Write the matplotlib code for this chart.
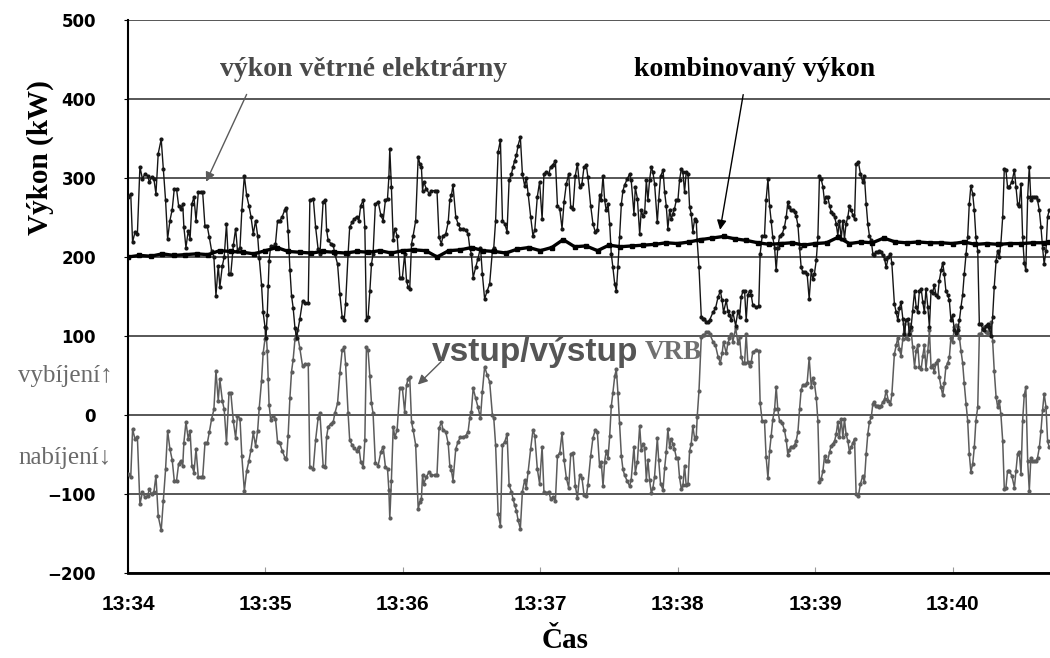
import matplotlib
matplotlib.use("Agg")
import matplotlib.pyplot as plt
import numpy as np

plt.rcParams["font.family"] = ["DejaVu Sans"]
plt.rcParams["axes.unicode_minus"] = True

SERIF = ["Liberation Serif", "DejaVu Serif"]
SANS_BOLD = ["Liberation Sans", "DejaVu Sans"]
NARROW = ["Liberation Sans Narrow", "Liberation Sans", "DejaVu Sans"]

# time in seconds after 13:34:00, shared by the wind and VRB series
t_sec = [
    0.1, 1.2, 2.0, 3.1, 4.1, 5.2, 6.3, 7.4, 8.6, 9.3, 10.3, 11.3, 12.2, 13.2, 14.5, 15.4, 16.4, 17.3, 18.3, 19.3,
    20.2, 21.2, 22.1, 23.0, 23.9, 24.4, 25.3, 26.3, 27.1, 27.9, 28.8, 29.7, 30.7, 31.7, 32.6, 33.6, 34.6, 35.5, 36.5, 37.5,
    38.4, 39.4, 40.1, 41.2, 42.0, 43.0, 44.1, 44.9, 46.0, 47.0, 47.8, 48.9, 49.7, 50.8, 51.8, 52.8, 53.7, 54.7, 55.7, 56.6,
    57.3, 58.3, 59.0, 59.8, 60.2, 60.8, 61.2, 61.6, 62.3, 63.4, 64.4, 65.3, 66.3, 67.3, 68.5, 69.2, 69.9, 70.7, 71.4, 72.1,
    72.9, 73.6, 75.0, 76.2, 77.2, 78.7, 79.4, 80.9, 81.9, 83.0, 83.8, 85.2, 86.2, 86.7, 87.4, 88.6, 89.6, 90.3, 91.5, 92.5,
    93.5, 94.4, 95.0, 96.1, 96.8, 97.9, 98.7, 99.8, 100.8, 101.6, 102.7, 103.4, 104.1, 104.8, 105.6, 106.3, 107.0, 108.0, 109.2, 110.4,
    111.4, 112.4, 113.3, 113.9, 114.3, 115.0, 115.8, 116.5, 117.5, 118.7, 119.8, 120.8, 121.6, 122.3, 123.0, 123.8, 124.5, 125.6, 126.7, 127.4,
    128.1, 128.6, 129.1, 130.3, 131.5, 132.5, 133.9, 134.9, 135.8, 136.8, 137.6, 138.7, 139.8, 140.5, 141.2, 141.9, 143.1, 144.1, 145.1, 146.3,
    147.5, 148.5, 149.2, 149.9, 150.7, 151.8, 152.8, 153.9, 154.7, 155.7, 156.8, 157.9, 159.1, 159.7, 160.5, 161.6, 162.6, 163.5, 164.5, 165.5,
    166.4, 167.4, 168.1, 168.8, 169.6, 170.3, 171.3, 172.2, 173.2, 173.9, 174.7, 175.8, 176.8, 177.6, 178.7, 179.7, 180.8, 181.6, 182.7, 183.7,
    184.5, 185.6, 186.6, 187.5, 188.5, 189.5, 190.4, 191.4, 192.4, 193.3, 194.3, 195.3, 196.2, 197.2, 198.2, 199.1, 200.1, 200.8, 202.0, 203.0,
    204.0, 204.9, 205.9, 206.6, 207.4, 208.1, 208.8, 209.6, 210.3, 211.0, 211.7, 212.5, 213.2, 213.9, 214.6, 215.4, 216.1, 216.8, 218.0, 219.0,
    219.7, 220.9, 221.5, 222.4, 223.4, 224.1, 224.8, 225.6, 226.3, 227.0, 227.7, 228.5, 229.2, 229.9, 231.1, 231.7, 232.5, 233.6, 234.3, 235.0,
    235.7, 236.5, 237.2, 237.9, 238.6, 239.4, 240.1, 240.8, 241.6, 242.3, 243.0, 243.7, 244.5, 245.2, 245.9, 246.6, 247.4, 248.1, 248.5, 249.3,
    250.3, 251.0, 251.7, 252.5, 253.2, 253.9, 255.4, 256.5, 257.6, 258.6, 259.4, 260.0, 261.2, 261.9, 262.6, 263.4, 264.1, 265.3, 266.3, 267.0,
    267.7, 268.5, 269.2, 269.9, 270.6, 271.4, 272.1, 272.8, 274.3, 275.4, 276.0, 276.9, 277.9, 278.6, 279.4, 280.1, 280.8, 281.5, 282.3, 283.0,
    283.7, 284.5, 285.6, 286.6, 287.4, 288.1, 288.8, 289.5, 290.3, 291.0, 291.7, 292.5, 293.2, 293.9, 294.6, 295.4, 296.5, 297.4, 298.3, 299.0,
    299.7, 300.5, 301.2, 301.9, 302.6, 303.4, 304.1, 304.8, 305.5, 306.3, 307.0, 307.7, 308.5, 309.2, 309.9, 310.6, 311.4, 312.1, 312.8, 313.5,
    314.3, 315.0, 315.7, 316.5, 317.2, 317.9, 318.9, 319.8, 320.8, 321.5, 322.3, 323.0, 323.7, 324.5, 325.2, 325.9, 326.6, 327.4, 328.1, 328.8,
    329.5, 330.3, 331.0, 332.0, 332.9, 333.5, 334.6, 335.4, 336.1, 336.8, 337.5, 338.3, 339.0, 339.7, 340.4, 341.2, 341.9, 342.6, 343.4, 344.1,
    344.8, 345.5, 346.3, 347.0, 347.7, 348.4, 349.2, 349.9, 350.6, 351.3, 352.0, 352.8, 353.5, 354.2, 355.0, 355.7, 356.4, 357.1, 357.9, 358.6,
    359.3, 360.0, 360.8, 361.5, 362.2, 363.0, 363.7, 364.4, 365.1, 365.9, 366.6, 367.3, 368.0, 368.8, 369.5, 370.2, 371.0, 371.7, 372.4, 373.1,
    373.9, 374.6, 375.3, 376.0, 376.8, 377.5, 378.2, 379.0, 379.7, 380.4, 381.1, 381.9, 382.6, 383.3, 384.0, 384.8, 385.9, 387.0, 387.7, 388.4,
    389.1, 389.9, 390.6, 391.3, 392.0, 392.8, 393.5, 394.2, 394.9, 395.7, 396.4, 397.1, 397.9, 398.6, 399.3, 400.0, 400.8, 401.5, 402.2,
]

# výkon větrné elektrárny (kW)
wind_kw = [
    276, 280, 219, 232, 229, 314, 299, 305, 303, 295, 301, 299, 280, 331, 349, 312, 272, 223, 246, 260,
    286, 286, 265, 261, 267, 238, 212, 233, 223, 267, 276, 246, 282, 282, 282, 239, 239, 225, 208, 200,
    151, 189, 162, 189, 200, 242, 179, 179, 215, 236, 208, 212, 259, 303, 278, 265, 251, 229, 246, 227,
    199, 165, 130, 112, 98, 127, 163, 195, 214, 213, 217, 246, 246, 251, 260, 262, 233, 184, 151, 136,
    110, 98, 121, 144, 142, 142, 272, 274, 238, 210, 204, 270, 272, 234, 221, 217, 215, 204, 191, 153,
    124, 120, 141, 204, 238, 244, 248, 251, 246, 265, 272, 238, 120, 124, 157, 191, 204, 267, 270, 253,
    246, 272, 274, 301, 337, 289, 221, 236, 227, 174, 174, 204, 170, 162, 160, 217, 227, 246, 327, 318,
    314, 284, 295, 286, 280, 284, 284, 284, 225, 217, 227, 229, 244, 272, 278, 291, 251, 242, 236, 236,
    234, 229, 212, 204, 174, 187, 198, 212, 179, 147, 157, 166, 208, 212, 246, 333, 348, 246, 242, 232,
    297, 305, 314, 322, 329, 341, 352, 305, 290, 300, 280, 251, 227, 234, 276, 295, 248, 305, 307, 305,
    314, 317, 322, 265, 261, 236, 270, 293, 305, 263, 261, 303, 318, 289, 293, 314, 316, 301, 265, 242,
    232, 234, 278, 272, 303, 272, 259, 267, 242, 204, 187, 166, 157, 187, 225, 267, 284, 291, 299, 305,
    297, 255, 288, 274, 229, 259, 252, 257, 297, 272, 297, 314, 307, 293, 244, 272, 302, 310, 282, 265,
    236, 259, 248, 255, 261, 272, 272, 297, 312, 307, 282, 307, 305, 263, 255, 232, 248, 246, 221, 187,
    124, 122, 122, 118, 118, 120, 130, 135, 149, 157, 145, 130, 145, 132, 126, 120, 130, 113, 132, 124,
    149, 157, 157, 120, 152, 157, 152, 139, 137, 138, 204, 227, 227, 272, 299, 265, 246, 225, 212, 183,
    212, 227, 229, 238, 251, 270, 263, 259, 259, 257, 252, 240, 212, 187, 181, 181, 179, 147, 183, 172,
    179, 196, 225, 303, 299, 289, 270, 276, 276, 265, 257, 255, 251, 242, 227, 246, 223, 246, 223, 242,
    251, 265, 259, 253, 248, 318, 320, 305, 295, 303, 267, 242, 227, 221, 204, 202, 206, 206, 208, 206,
    202, 198, 187, 200, 204, 192, 141, 130, 120, 135, 143, 122, 103, 120, 122, 103, 111, 132, 157, 137,
    130, 157, 160, 143, 130, 160, 137, 111, 157, 155, 164, 152, 149, 170, 183, 193, 178, 157, 152, 145,
    120, 126, 107, 104, 107, 120, 137, 152, 178, 204, 225, 267, 290, 280, 259, 225, 208, 115, 115, 109,
    107, 113, 115, 111, 100, 124, 162, 195, 208, 200, 217, 251, 312, 310, 289, 289, 295, 310, 289, 267,
    265, 293, 225, 193, 183, 276, 314, 272, 276, 276, 276, 272, 259, 238, 212, 191, 208, 251, 259,
]

# vstup/výstup VRB (kW), + vybíjení / - nabíjení
vrb_kw = [
    -75, -79, -18, -31, -28, -113, -98, -104, -102, -94, -100, -98, -77, -128, -146, -109, -69, -20, -43, -57,
    -83, -83, -62, -58, -64, -35, -9, -30, -20, -64, -73, -43, -79, -79, -79, -36, -36, -22, -5, 7,
    56, 18, 45, 18, 7, -35, 28, 28, -8, -29, -1, -5, -52, -96, -71, -58, -44, -22, -39, -20,
    9, 43, 78, 96, 110, 81, 45, 13, -6, -1, -5, -34, -36, -45, -54, -56, -27, 22, 55, 70,
    96, 108, 85, 62, 64, 64, -66, -68, -32, -4, 2, -64, -66, -28, -15, -11, -9, 2, 15, 53,
    82, 86, 65, 2, -32, -38, -42, -45, -40, -59, -66, -32, 86, 82, 49, 15, 2, -61, -64, -47,
    -40, -66, -68, -95, -131, -83, -15, -28, -19, 34, 34, 4, 38, 46, 48, -9, -19, -38, -119, -110,
    -106, -76, -87, -78, -72, -76, -76, -76, -17, -9, -19, -21, -36, -64, -70, -83, -43, -34, -28, -28,
    -26, -21, -4, 4, 34, 21, 10, -4, 29, 61, 51, 42, 0, -4, -38, -125, -140, -38, -34, -24,
    -89, -97, -106, -114, -121, -133, -144, -97, -82, -92, -72, -43, -19, -26, -68, -87, -40, -97, -99, -97,
    -106, -104, -109, -52, -48, -23, -57, -80, -92, -50, -48, -90, -105, -76, -80, -101, -103, -88, -52, -29,
    -19, -21, -65, -59, -90, -59, -46, -54, -27, 11, 28, 49, 58, 28, -10, -52, -69, -76, -84, -90,
    -82, -40, -73, -59, -14, -44, -37, -42, -82, -57, -82, -99, -92, -78, -29, -57, -87, -95, -67, -47,
    -18, -41, -30, -37, -43, -54, -54, -79, -94, -89, -64, -89, -87, -45, -37, -14, -30, -28, -3, 31,
    99, 101, 101, 105, 105, 103, 93, 88, 74, 66, 78, 93, 78, 91, 97, 103, 93, 110, 91, 99,
    74, 66, 66, 103, 67, 62, 67, 80, 82, 81, 15, -8, -8, -53, -80, -46, -27, -6, 7, 36,
    7, -8, -10, -19, -32, -51, -44, -40, -40, -38, -33, -21, 7, 32, 38, 38, 40, 72, 36, 47,
    40, 22, -7, -85, -81, -71, -52, -58, -58, -47, -39, -37, -33, -24, -9, -28, -5, -28, -5, -24,
    -33, -47, -41, -35, -30, -100, -102, -87, -77, -85, -49, -24, -9, -3, 14, 16, 12, 12, 10, 12,
    16, 20, 31, 18, 14, 26, 77, 88, 98, 83, 75, 96, 115, 98, 96, 115, 107, 86, 61, 81,
    88, 61, 58, 75, 88, 58, 81, 107, 61, 63, 54, 66, 69, 48, 35, 25, 40, 61, 66, 73,
    98, 92, 111, 114, 111, 98, 81, 66, 40, 14, -7, -49, -72, -62, -41, -7, 10, 103, 103, 109,
    111, 105, 103, 107, 118, 94, 56, 23, 10, 18, 1, -33, -94, -92, -71, -71, -77, -92, -71, -49,
    -47, -75, -7, 25, 35, -58, -96, -54, -58, -58, -58, -54, -41, -20, 6, 27, 10, -33, -41,
]

# kombinovaný výkon (kW), read every 5 s
comb_t = list(np.arange(0, 405, 5)) + [402.2]
comb_kw = [
    200, 202, 201, 204, 202, 203, 204, 203, 208, 207,
    206, 204, 208, 212, 207, 206, 205, 207, 206, 205,
    207, 206, 208, 205, 208, 209, 208, 200, 208, 209,
    212, 208, 207, 205, 210, 212, 208, 212, 222, 213,
    214, 208, 215, 213, 214, 215, 216, 218, 217, 219,
    222, 224, 226, 223, 221, 218, 216, 217, 218, 215,
    217, 218, 225, 217, 219, 218, 224, 219, 218, 219,
    218, 218, 217, 219, 216, 217, 216, 217, 217, 218,
    218, 219,
]

tick_sec = [0, 60, 120, 180, 240, 300, 360]
tick_labels = ["13:34", "13:35", "13:36", "13:37", "13:38", "13:39", "13:40"]


def main() -> None:
    fig = plt.figure(figsize=(10.5, 6.58), dpi=100)
    ax = fig.add_axes([0.1219, 0.1292, 0.878, 0.8404])

    ax.plot(t_sec, vrb_kw, color="#5c5c5c", lw=1.1, marker="o", ms=2.0, zorder=3)
    ax.plot(t_sec, wind_kw, color="#151515", lw=1.0, marker="o", ms=2.0, zorder=4)
    ax.plot(comb_t, comb_kw, color="black", lw=2.4, marker="s", ms=2.5, zorder=5)

    ax.set_xlim(0, 402.5)
    ax.set_ylim(-200, 500)
    ax.set_yticks(range(-200, 501, 100))
    ax.set_xticks(tick_sec)
    ax.set_xticklabels(tick_labels)
    ax.yaxis.grid(True, color="#3a3a3a", lw=1.2)
    ax.set_axisbelow(True)

    for side in ("top", "right"):
        ax.spines[side].set_visible(False)
    ax.spines["left"].set_linewidth(1.5)
    ax.spines["bottom"].set_linewidth(2.0)

    ax.tick_params(axis="x", direction="in", length=4, color="#999999", pad=16)
    ax.tick_params(axis="y", direction="out", length=3, pad=20)
    for lbl in ax.get_yticklabels():
        lbl.set_fontsize(12)
        lbl.set_fontweight("bold")
    for lbl in ax.get_xticklabels():
        lbl.set_fontfamily(NARROW)
        lbl.set_fontsize(15)
        lbl.set_fontweight("bold")

    fig.text(0.038, 0.76, "Výkon (kW)", rotation=90, fontsize=21, fontweight="bold",
             family=SERIF, ha="center", va="center")
    fig.text(0.538, 0.027, "Čas", fontsize=21, fontweight="bold", family=SERIF,
             ha="center", va="center")
    fig.text(0.062, 0.4286, "vybíjení↑", fontsize=18, color="#6a6a6a", family=SERIF,
             ha="center", va="center")
    fig.text(0.062, 0.304, "nabíjení↓", fontsize=18, color="#6a6a6a", family=SERIF,
             ha="center", va="center")

    # annotations with arrows
    ax.text(103, 437, "výkon větrné elektrárny", fontsize=20, fontweight="bold",
            color="#4a4a4a", family=SERIF, ha="center", va="center")
    ax.annotate("", xy=(33.6, 292), xytext=(52.3, 409),
                arrowprops=dict(arrowstyle="-|>", color="#5a5a5a", lw=1.0, mutation_scale=14))

    ax.text(273.6, 437, "kombinovaný výkon", fontsize=20, fontweight="bold",
            color="black", family=SERIF, ha="center", va="center")
    ax.annotate("", xy=(258.3, 231), xytext=(268.8, 409),
                arrowprops=dict(arrowstyle="-|>", color="black", lw=1.0, mutation_scale=14))

    ax.text(132.6, 79, "vstup/výstup", fontsize=24, fontweight="bold",
            color="#555555", family=SANS_BOLD, ha="left", va="center")
    ax.text(225.6, 79, "VRB", fontsize=19.5, fontweight="bold",
            color="#707070", family=SERIF, ha="left", va="center")
    ax.annotate("", xy=(125.7, 36), xytext=(137.6, 70),
                arrowprops=dict(arrowstyle="-|>", color="#5a5a5a", lw=1.0, mutation_scale=14))

    fig.savefig("out.png", dpi=100)


if __name__ == "__main__":
    main()
